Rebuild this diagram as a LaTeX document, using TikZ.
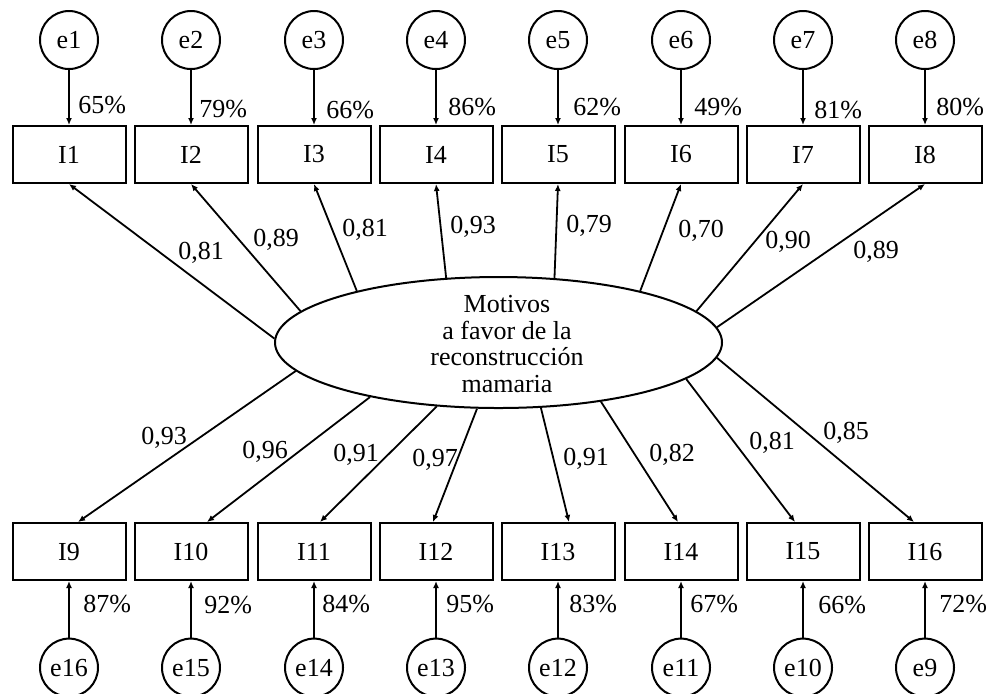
\documentclass[tikz,border=0pt]{standalone}
\usepackage{fontspec}
\setmainfont{Liberation Serif}
\usetikzlibrary{shapes.geometric, arrows.meta, positioning}

\tikzset{
  item/.style={draw, line width=1pt, minimum width=56.5pt, minimum height=28.5pt, inner sep=0pt},
  resid/.style={draw, circle, line width=1pt, minimum size=29pt, inner sep=0pt},
  factor/.style={draw, ellipse, line width=1pt, minimum width=223.5pt, minimum height=65.5pt, inner sep=0pt},
  load/.style={-{Latex[length=3.5pt,width=3pt]}, line width=0.9pt},
  coef/.style={anchor=base, inner sep=0pt},
  pct/.style={anchor=base west, inner sep=0pt}
}

\begin{document}
\begin{tikzpicture}[x=0.5pt, y=-0.5pt, font=\fontsize{13}{13.25}\selectfont]
        \useasboundingbox (0,0) rectangle (989,693);

        % Factor
        \node[factor] (F) at (498.5,342.5) {};
        \node[align=center, inner sep=0pt] (Ftext) at (507,344) {Motivos\\a favor de la\\reconstrucción\\mamaria};

        % Items arriba
        \node[item] (I1) at (69,154.5) {I1};
        \node[item] (I2) at (191,154.5) {I2};
        \node[item] (I3) at (314,154.5) {I3};
        \node[item] (I4) at (436,154.5) {I4};
        \node[item] (I5) at (558,154.5) {I5};
        \node[item] (I6) at (681,154.5) {I6};
        \node[item] (I7) at (803,154.5) {I7};
        \node[item] (I8) at (925,154.5) {I8};

        % Items abajo
        \node[item] (I9) at (69,551.5) {I9};
        \node[item] (I10) at (191,551.5) {I10};
        \node[item] (I11) at (314,551.5) {I11};
        \node[item] (I12) at (436,551.5) {I12};
        \node[item] (I13) at (558,551.5) {I13};
        \node[item] (I14) at (681,551.5) {I14};
        \node[item] (I15) at (803,551.5) {I15};
        \node[item] (I16) at (925,551.5) {I16};

        % Errores
        \node[resid, above=27.5pt of I1] (e1) {e1};
        \node[resid, above=27.5pt of I2] (e2) {e2};
        \node[resid, above=27.5pt of I3] (e3) {e3};
        \node[resid, above=27.5pt of I4] (e4) {e4};
        \node[resid, above=27.5pt of I5] (e5) {e5};
        \node[resid, above=27.5pt of I6] (e6) {e6};
        \node[resid, above=27.5pt of I7] (e7) {e7};
        \node[resid, above=27.5pt of I8] (e8) {e8};
        \node[resid, below=28.3pt of I9] (e16) {e16};
        \node[resid, below=28.3pt of I10] (e15) {e15};
        \node[resid, below=28.3pt of I11] (e14) {e14};
        \node[resid, below=28.3pt of I12] (e13) {e13};
        \node[resid, below=28.3pt of I13] (e12) {e12};
        \node[resid, below=28.3pt of I14] (e11) {e11};
        \node[resid, below=28.3pt of I15] (e10) {e10};
        \node[resid, below=28.3pt of I16] (e9) {e9};

        % Flechas de error
        \draw[load] (e1) -- (I1);
        \draw[load] (e2) -- (I2);
        \draw[load] (e3) -- (I3);
        \draw[load] (e4) -- (I4);
        \draw[load] (e5) -- (I5);
        \draw[load] (e6) -- (I6);
        \draw[load] (e7) -- (I7);
        \draw[load] (e8) -- (I8);
        \draw[load] (e16) -- (I9);
        \draw[load] (e15) -- (I10);
        \draw[load] (e14) -- (I11);
        \draw[load] (e13) -- (I12);
        \draw[load] (e12) -- (I13);
        \draw[load] (e11) -- (I14);
        \draw[load] (e10) -- (I15);
        \draw[load] (e9) -- (I16);

        % Cargas
        \draw[load] (F.179) -- (I1.south);
        \draw[load] (F.171) -- (I2.south);
        \draw[load] (F.160) -- (I3.south);
        \draw[load] (F.129) -- (I4.south);
        \draw[load] (F.49) -- (I5.south);
        \draw[load] (F.20) -- (I6.south);
        \draw[load] (F.9) -- (I7.south);
        \draw[load] (F.4) -- (I8.south);
        \draw[load] (F.188) -- ([xshift=4.5pt]I9.north);
        \draw[load] (F.203) -- ([xshift=8pt]I10.north);
        \draw[load] (F.226) -- ([xshift=3pt]I11.north);
        \draw[load] (F.252) -- ([xshift=-1.5pt]I12.north);
        \draw[load] (F.303) -- ([xshift=5.5pt]I13.north);
        \draw[load] (F.330) -- ([xshift=-1.5pt]I14.north);
        \draw[load] (F.349) -- ([xshift=-4pt]I15.north);
        \draw[load] (F.356) -- ([xshift=-5.5pt]I16.north);

        % Coeficientes
        \node[coef] (c1) at (201,259) {0,81};
        \node[coef] (c2) at (276,246) {0,89};
        \node[coef] (c3) at (365,236) {0,81};
        \node[coef] (c4) at (473,233) {0,93};
        \node[coef] (c5) at (589,232) {0,79};
        \node[coef] (c6) at (701,237) {0,70};
        \node[coef] (c7) at (788,248) {0,90};
        \node[coef] (c8) at (876,258) {0,89};
        \node[coef] (c9) at (164,444) {0,93};
        \node[coef] (c10) at (265,458) {0,96};
        \node[coef] (c11) at (356,461) {0,91};
        \node[coef] (c12) at (435,466) {0,97};
        \node[coef] (c13) at (586,465) {0,91};
        \node[coef] (c14) at (672,461) {0,82};
        \node[coef] (c15) at (772,449) {0,81};
        \node[coef] (c16) at (846,439) {0,85};

        % Varianza explicada
        \node[pct] (r1) at (78,113) {65\%};
        \node[pct] (r2) at (199,117) {79\%};
        \node[pct] (r3) at (326,118) {66\%};
        \node[pct] (r4) at (448,115) {86\%};
        \node[pct] (r5) at (573,115) {62\%};
        \node[pct] (r6) at (694,115) {49\%};
        \node[pct] (r7) at (814,118) {81\%};
        \node[pct] (r8) at (936,115) {80\%};
        \node[pct] (r9) at (83,612) {87\%};
        \node[pct] (r10) at (204,613) {92\%};
        \node[pct] (r11) at (322,612) {84\%};
        \node[pct] (r12) at (446,612) {95\%};
        \node[pct] (r13) at (569,612) {83\%};
        \node[pct] (r14) at (690,612) {67\%};
        \node[pct] (r15) at (818,613) {66\%};
        \node[pct] (r16) at (939,612) {72\%};
    \end{tikzpicture}
\end{document}
